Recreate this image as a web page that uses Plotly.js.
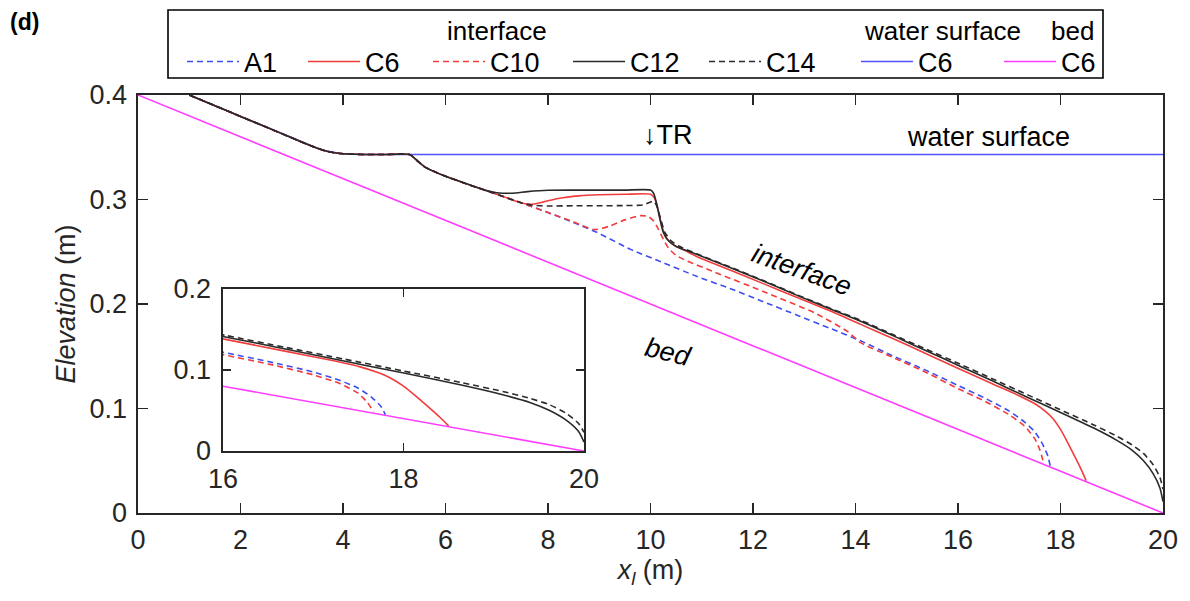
<!DOCTYPE html>
<html>
<head>
<meta charset="utf-8">
<script src="https://cdn.plot.ly/plotly-3.0.1.min.js"></script>
<style>html,body{margin:0;padding:0;background:#fff}#chart{width:1190px;height:601px}</style>
</head>
<body>
<div id="chart"></div>
<script>
// ---- data (x in m, elevation in m) ----
var upX = [1.0, 1.5, 2.0, 2.5, 3.0, 3.3, 3.5, 3.65, 3.8, 3.95, 4.1, 4.4, 4.8, 5.3];
var upY = [0.400, 0.3898, 0.3795, 0.3693, 0.359, 0.3528, 0.3490, 0.3466, 0.3450, 0.3440, 0.3435, 0.3431, 0.343, 0.343];

var a1X = [5.45, 5.6, 6.0, 6.5, 7.0, 7.5, 8.0, 8.5, 9.0, 9.6, 10.25, 10.9, 11.55, 12.2, 12.85, 13.5, 14.1, 14.7, 15.4, 16.0, 16.5, 17.0, 17.3, 17.5, 17.65, 17.75, 17.8];
var a1Y = [0.337, 0.331, 0.3222, 0.3135, 0.305, 0.2965, 0.2875, 0.278, 0.2675, 0.2525, 0.2395, 0.2265, 0.2148, 0.2022, 0.1895, 0.1768, 0.1648, 0.1510, 0.136, 0.122, 0.1105, 0.0975, 0.087, 0.0775, 0.066, 0.055, 0.045];

var c6X = [5.45, 5.6, 6.0, 6.5, 7.0, 7.5, 7.7, 7.9, 8.2, 8.6, 9.0, 9.5, 10.0, 10.08, 10.15, 10.22, 10.3, 10.45, 10.7, 10.9, 11.55, 12.2, 12.85, 13.5, 14.1, 14.75, 15.4, 16.04, 16.7, 17.2, 17.5, 17.7, 17.85, 18.0, 18.15, 18.3, 18.4, 18.5];
var c6Y = [0.337, 0.331, 0.3222, 0.3135, 0.305, 0.2965, 0.2955, 0.2975, 0.301, 0.3035, 0.3045, 0.305, 0.305, 0.301, 0.290, 0.275, 0.264, 0.2565, 0.2505, 0.2455, 0.2325, 0.2195, 0.2065, 0.1935, 0.1805, 0.1665, 0.152, 0.1375, 0.123, 0.112, 0.1045, 0.0975, 0.0905, 0.080, 0.0665, 0.052, 0.042, 0.031];

var c10X = [5.45, 5.6, 6.0, 6.5, 7.0, 7.5, 8.0, 8.5, 8.9, 9.2, 9.5, 9.8, 9.95, 10.05, 10.15, 10.25, 10.35, 10.5, 10.7, 11.2, 12.2, 13.2, 13.85, 14.1, 14.7, 15.4, 16.0, 16.5, 17.0, 17.3, 17.5, 17.6, 17.67];
var c10Y = [0.337, 0.331, 0.3222, 0.3135, 0.305, 0.2965, 0.2875, 0.2785, 0.2712, 0.2745, 0.2805, 0.2845, 0.2838, 0.280, 0.272, 0.262, 0.2535, 0.2465, 0.2415, 0.2315, 0.212, 0.1915, 0.1735, 0.163, 0.1495, 0.134, 0.119, 0.1075, 0.094, 0.083, 0.071, 0.060, 0.048];

var c12X = [5.45, 5.6, 6.0, 6.5, 6.8, 7.0, 7.3, 7.6, 8.0, 8.5, 9.0, 9.5, 10.0, 10.06, 10.12, 10.18, 10.25, 10.35, 10.5, 10.9, 11.55, 12.2, 12.85, 13.5, 14.1, 14.74, 15.39, 16.04, 16.69, 17.34, 17.99, 18.64, 19.1, 19.4, 19.62, 19.81, 19.94, 20.0];
var c12Y = [0.337, 0.331, 0.3222, 0.3135, 0.3085, 0.3065, 0.306, 0.3075, 0.3088, 0.309, 0.309, 0.309, 0.309, 0.306, 0.296, 0.282, 0.2685, 0.2605, 0.255, 0.2475, 0.235, 0.222, 0.2085, 0.1955, 0.1835, 0.1695, 0.155, 0.1405, 0.126, 0.111, 0.0965, 0.0815, 0.0695, 0.060, 0.050, 0.0375, 0.024, 0.011];

var c14X = [5.45, 5.6, 6.0, 6.5, 7.0, 7.5, 7.7, 8.0, 8.5, 9.0, 9.5, 9.85, 10.0, 10.06, 10.12, 10.2, 10.28, 10.4, 10.55, 10.9, 11.55, 12.2, 12.85, 13.5, 14.1, 14.74, 15.39, 16.04, 16.69, 17.34, 17.99, 18.64, 19.1, 19.4, 19.62, 19.81, 19.94, 20.0];
var c14Y = [0.337, 0.331, 0.3222, 0.3135, 0.305, 0.2965, 0.2945, 0.2938, 0.294, 0.294, 0.2942, 0.2948, 0.2975, 0.2985, 0.294, 0.281, 0.2685, 0.2605, 0.2555, 0.248, 0.2355, 0.2225, 0.209, 0.196, 0.1845, 0.1705, 0.1565, 0.1425, 0.128, 0.1135, 0.099, 0.0845, 0.0735, 0.065, 0.057, 0.046, 0.034, 0.023];

var wsX = [1.0, 1.5, 2.0, 2.5, 3.0, 3.3, 3.5, 3.65, 3.8, 3.95, 4.1, 4.4, 20.0];
var wsY = [0.400, 0.3898, 0.3795, 0.3693, 0.359, 0.3528, 0.3490, 0.3466, 0.3450, 0.3440, 0.3435, 0.3431, 0.343];

var bedX = [0, 20];
var bedY = [0.4, 0];

var legendNames = ['A1', 'C6', 'C10', 'C12', 'C14', 'C6', 'C6'];

// ---- styles ----
var FONT = 'Liberation Sans, Arial, Helvetica, sans-serif';
var TXT = '#262626';
var FS = 27;
var BLUE = '#3d4ef2', RED = '#f23c3c', BLACK = '#2a2a2a', WBLUE = '#5252ff', MAG = '#ff3dff';
var DASH = '6px,4px';

var series = [
  {x: upX.concat(a1X),  y: upY.concat(a1Y),  color: BLUE,  dash: DASH,    shape: 'spline'},
  {x: upX.concat(c6X),  y: upY.concat(c6Y),  color: RED,   dash: 'solid', shape: 'spline'},
  {x: upX.concat(c10X), y: upY.concat(c10Y), color: RED,   dash: DASH,    shape: 'spline'},
  {x: upX.concat(c12X), y: upY.concat(c12Y), color: BLACK, dash: 'solid', shape: 'spline'},
  {x: upX.concat(c14X), y: upY.concat(c14Y), color: BLACK, dash: DASH,    shape: 'spline'},
  {x: wsX, y: wsY, color: WBLUE, dash: 'solid', shape: 'linear'},
  {x: bedX, y: bedY, color: MAG, dash: 'solid', shape: 'linear'}
];

var drawOrder = [6, 5, 0, 1, 2, 3, 4];
var legendIds = ['legend', 'legend2', 'legend3', 'legend4', 'legend5', 'legend6', 'legend7'];
var traces = [];
function lineStyle(s) {
  var l = {color: s.color, width: 1.6, dash: s.dash, shape: s.shape};
  if (s.shape === 'spline') l.smoothing = 0.6;
  return l;
}
drawOrder.forEach(function (i) {
  var s = series[i];
  traces.push({
    x: s.x, y: s.y, type: 'scatter', mode: 'lines', name: legendNames[i],
    line: lineStyle(s), legend: legendIds[i], showlegend: true, hoverinfo: 'skip',
    xaxis: 'x', yaxis: 'y'
  });
});
drawOrder.forEach(function (i) {
  var s = series[i];
  traces.push({
    x: s.x, y: s.y, type: 'scatter', mode: 'lines', name: legendNames[i],
    line: lineStyle(s), showlegend: false, hoverinfo: 'skip',
    xaxis: 'x2', yaxis: 'y2'
  });
});

// plot area in px: left 138, right 1163, top 95, bottom 513
var L = 138, R = 1163, T = 95, B = 513, W = 1190, H = 601;
function px(xp) { return (xp - L) / (R - L); }
function py(yp) { return (B - yp) / (B - T); }

var legendStarts = [182, 303, 428, 568, 704, 856, 999];
function axisBase() {
  return {
    ticks: 'inside', tickwidth: 1.4, tickcolor: TXT,
    showline: true, linecolor: TXT, linewidth: 1.6, mirror: 'ticks',
    showgrid: false, zeroline: false,
    tickfont: {family: FONT, size: FS, color: TXT}
  };
}
var xa = axisBase(), ya = axisBase(), xa2 = axisBase(), ya2 = axisBase();
Object.assign(xa, {domain: [0, 1], anchor: 'y', range: [0, 20], tick0: 0, dtick: 2, ticklen: 10, ticklabelstandoff: 2,
  title: {text: '<i>x</i><sub><i>l</i></sub> (m)', font: {family: FONT, size: FS, color: TXT}, standoff: 6}});
Object.assign(ya, {domain: [0, 1], anchor: 'x', range: [0, 0.4], tick0: 0, dtick: 0.1, ticklen: 10, ticklabelstandoff: 4,
  title: {text: '<i>Elevation</i> (m)', font: {family: FONT, size: FS, color: TXT}, standoff: 6}});
Object.assign(xa2, {domain: [px(223), px(584)], anchor: 'y2', range: [16, 20], tick0: 16, dtick: 2, ticklen: 8, ticklabelstandoff: 3});
Object.assign(ya2, {domain: [py(451), py(289)], anchor: 'x2', range: [0, 0.2], tick0: 0, dtick: 0.1, ticklen: 8, ticklabelstandoff: 5});

var layout = {
  width: W, height: H,
  margin: {l: L, r: W - R, t: T, b: H - B, pad: 0},
  paper_bgcolor: '#fff', plot_bgcolor: '#fff',
  font: {family: FONT, size: FS, color: TXT},
  showlegend: true,
  xaxis: xa, yaxis: ya, xaxis2: xa2, yaxis2: ya2,
  shapes: [
    {type: 'rect', xref: 'paper', yref: 'paper', x0: px(168), x1: px(1103), y0: py(78), y1: py(10),
     line: {color: '#000', width: 1.6}, fillcolor: 'rgba(0,0,0,0)', layer: 'above'}
  ],
  annotations: [
    {xref: 'paper', yref: 'paper', x: px(497), y: py(31), text: 'interface', showarrow: false, xanchor: 'center', yanchor: 'middle', font: {size: FS - 1, color: '#000'}},
    {xref: 'paper', yref: 'paper', x: px(942), y: py(31), text: 'water surface', showarrow: false, xanchor: 'center', yanchor: 'middle', font: {size: FS - 1, color: '#000'}},
    {xref: 'paper', yref: 'paper', x: px(1072), y: py(31), text: 'bed', showarrow: false, xanchor: 'center', yanchor: 'middle', font: {size: FS - 1, color: '#000'}},
    {xref: 'paper', yref: 'paper', x: px(8), y: py(22), text: '<b>(d)</b>', showarrow: false, xanchor: 'left', yanchor: 'middle', font: {size: 23, color: '#000'}},
    {xref: 'x', yref: 'y', x: 9.82, y: 0.3617, text: '↓TR', showarrow: false, xanchor: 'left', yanchor: 'middle', font: {size: FS, color: '#000'}},
    {xref: 'x', yref: 'y', x: 16.6, y: 0.3598, text: 'water surface', showarrow: false, xanchor: 'center', yanchor: 'middle', font: {size: FS, color: '#000'}},
    {xref: 'x', yref: 'y', x: 12.96, y: 0.2325, text: '<i>interface</i>', textangle: 20, showarrow: false, xanchor: 'center', yanchor: 'middle', font: {size: FS, color: '#000'}},
    {xref: 'x', yref: 'y', x: 10.34, y: 0.154, text: '<i>bed</i>', textangle: 14, showarrow: false, xanchor: 'center', yanchor: 'middle', font: {size: FS, color: '#000'}}
  ]
};
legendIds.forEach(function (id, k) {
  layout[id] = {
    x: px(legendStarts[k]), y: py(62), xanchor: 'left', yanchor: 'middle',
    orientation: 'h', bgcolor: 'rgba(0,0,0,0)', borderwidth: 0,
    itemwidth: 52, font: {family: FONT, size: FS, color: '#000'}, itemclick: false, itemdoubleclick: false
  };
});

Plotly.newPlot('chart', traces, layout, {staticPlot: true, displayModeBar: false});
</script>
</body>
</html>
